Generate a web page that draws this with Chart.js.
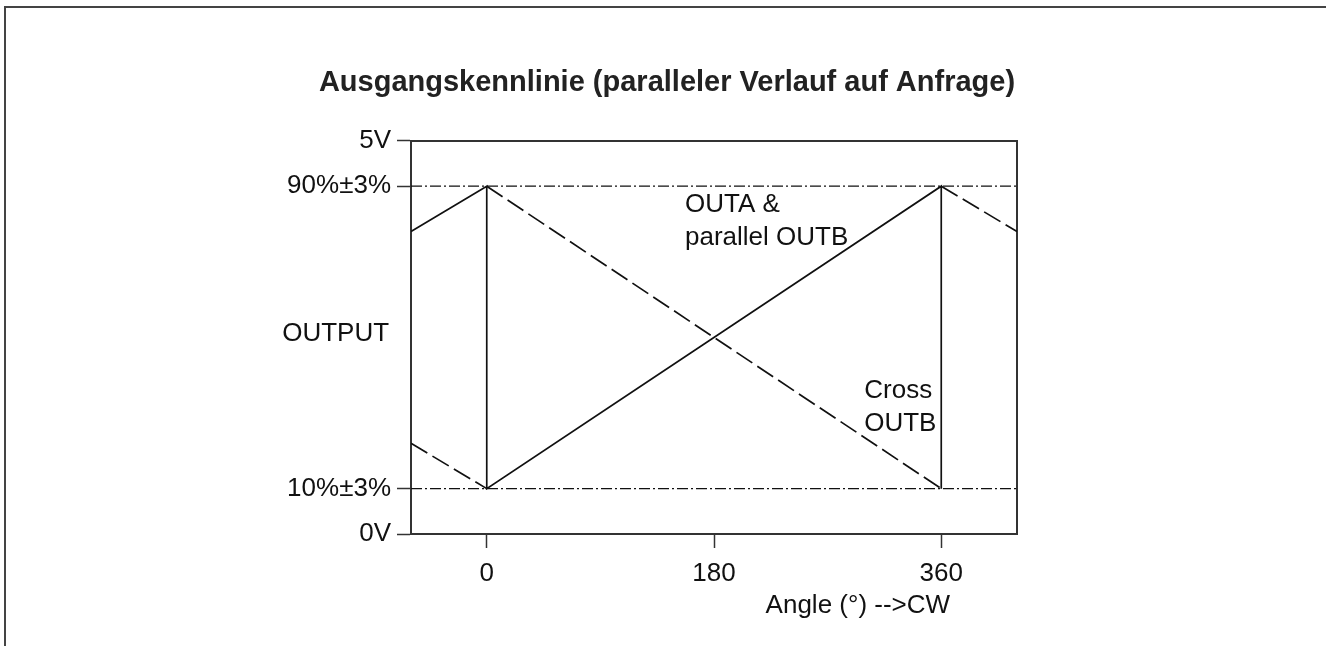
<!DOCTYPE html>
<html>
<head>
<meta charset="utf-8">
<script src="https://cdn.jsdelivr.net/npm/chart.js@4.4.1/dist/chart.umd.min.js"></script>
<style>
    body { margin: 0; background: #fff; overflow: hidden; }
    #frame {
        position: absolute; left: 4px; top: 6px; width: 2000px; height: 1000px;
        border-top: 2px solid #444; border-left: 2px solid #444;
    }
    #chart { position: absolute; left: 0; top: 0; }
</style>
</head>
<body>
<div id="frame"></div>
<canvas id="chart" width="1326" height="646"></canvas>
<script>
// axis ranges and ticks
const angleMin = -60;
const angleMax = 420;
const angleTicks = [0, 180, 360];
const outMin = -2;
const outMax = 102;
const outTicks = [-2, 10, 90, 102];
const outTickLabels = ['0V', '10%±3%', '90%±3%', '5V'];
const levels = [10, 90];

// OUTA & parallel OUTB (solid)
const outaAngle = [-60, 0, 0, 360, 360];
const outaValue = [78, 90, 10, 90, 10];
// Cross OUTB (dashed), null = gap
const crossAngle = [-60, 0, 0, 0, 360, 360, 360, 420];
const crossValue = [22, 10, null, 90, 10, null, 90, 78];

const notes = [
    { text: ['OUTA &', 'parallel OUTB'], angle: 157, value: 85, align: 'left' },
    { text: ['Cross', 'OUTB'], angle: 299, value: 36, align: 'left' },
    { text: ['OUTPUT'], angle: -162, value: 51, align: 'left' },
    { text: ['Angle (°) -->CW'], angle: 367, value: -21, align: 'right' },
];

const family = '"Liberation Sans", Arial, Helvetica, sans-serif';
const ink = '#111';
const axisColor = '#333';

const toPoints = (xs, ys) => xs.map((v, i) => ({ x: v, y: ys[i] }));

const notesPlugin = {
    id: 'notes',
    afterDraw(chart) {
        const { ctx, scales } = chart;
        ctx.save();
        ctx.font = '26px ' + family;
        ctx.fillStyle = ink;
        ctx.textBaseline = 'middle';
        notes.forEach((n) => {
            ctx.textAlign = n.align;
            const px = scales.x.getPixelForValue(n.angle);
            const py = scales.y.getPixelForValue(n.value);
            n.text.forEach((t, i) => ctx.fillText(t, px, py + i * 33));
        });
        ctx.restore();
    },
};

const tickGrid = {
    drawOnChartArea: false,
    drawTicks: true,
    tickLength: 14,
    tickColor: axisColor,
    tickWidth: 1.5,
};

new Chart('chart', {
    type: 'line',
    data: {
        datasets: [
            {
                label: 'OUTA & parallel OUTB',
                data: toPoints(outaAngle, outaValue),
                borderColor: ink,
                borderWidth: 1.7,
                pointRadius: 0,
            },
            {
                label: 'Cross OUTB',
                data: toPoints(crossAngle, crossValue),
                borderColor: ink,
                borderWidth: 1.7,
                borderDash: [19, 6],
                pointRadius: 0,
                spanGaps: false,
            },
            ...levels.map((l) => ({
                label: 'level ' + l,
                data: [{ x: angleMin, y: l }, { x: angleMax, y: l }],
                borderColor: ink,
                borderWidth: 1.4,
                borderDash: [11, 3, 2, 3],
                pointRadius: 0,
            })),
        ],
    },
    options: {
        responsive: false,
        animation: false,
        devicePixelRatio: 1,
        layout: { padding: { left: 240, right: 232, top: 66, bottom: 52 } },
        plugins: {
            legend: { display: false },
            tooltip: { enabled: false },
            title: {
                display: true,
                text: 'Ausgangskennlinie (paralleler Verlauf auf Anfrage)',
                color: '#222',
                font: { family: family, size: 29, weight: 'bold' },
                padding: { top: 0, bottom: 40 },
            },
        },
        scales: {
            x: {
                type: 'linear',
                min: angleMin,
                max: angleMax,
                afterBuildTicks: (s) => {
                    s.ticks = angleTicks.map((v) => ({ value: v }));
                },
                ticks: {
                    callback: (v) => String(v),
                    color: ink,
                    font: { family: family, size: 26 },
                    padding: 10,
                    maxRotation: 0,
                },
                grid: tickGrid,
                border: { color: axisColor, width: 2 },
                afterFit: (s) => { s.height = 60; },
            },
            y: {
                type: 'linear',
                min: outMin,
                max: outMax,
                afterBuildTicks: (s) => {
                    s.ticks = outTicks.map((v) => ({ value: v }));
                },
                ticks: {
                    callback: (v) => outTickLabels[outTicks.indexOf(v)],
                    color: ink,
                    font: { family: family, size: 26 },
                    padding: 6,
                },
                grid: tickGrid,
                border: { color: axisColor, width: 2 },
                afterFit: (s) => { s.width = 171; },
            },
            x2: {
                type: 'linear',
                position: 'top',
                ticks: { display: false },
                grid: { display: false },
                border: { color: axisColor, width: 2 },
                afterFit: (s) => { s.height = 0; },
            },
            y2: {
                type: 'linear',
                position: 'right',
                ticks: { display: false },
                grid: { display: false },
                border: { color: axisColor, width: 2 },
                afterFit: (s) => { s.width = 77; },
            },
        },
    },
    plugins: [notesPlugin],
});
</script>
</body>
</html>
